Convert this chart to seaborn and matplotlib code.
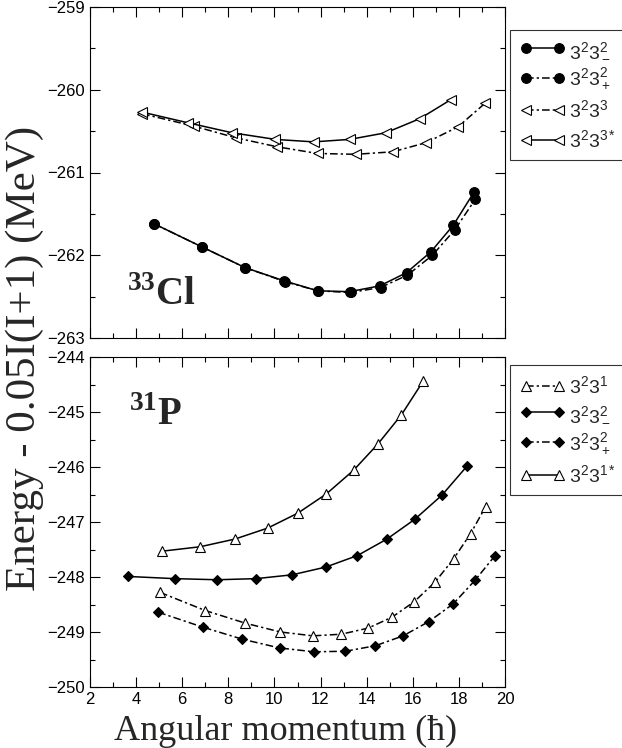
import matplotlib
matplotlib.use('Agg')
import matplotlib.pyplot as plt
import seaborn as sns
import numpy as np
from matplotlib.ticker import MultipleLocator

# ---- 33Cl (top panel) ----
cl_xm = [4.78, 6.86, 8.73, 10.43, 11.88, 13.26, 14.57, 15.73, 16.78, 17.75, 18.65]
cl_em = [-261.62, -261.90, -262.15, -262.31, -262.43, -262.44, -262.37, -262.21, -261.96, -261.64, -261.24]
cl_xp = [4.78, 6.86, 8.73, 10.47, 11.88, 13.30, 14.60, 15.77, 16.85, 17.83, 18.72]
cl_ep = [-261.62, -261.90, -262.15, -262.32, -262.43, -262.45, -262.39, -262.24, -262.00, -261.69, -261.32]
cl_x3 = [4.26, 6.51, 8.32, 10.13, 11.87, 13.53, 15.13, 16.57, 17.95, 19.15]
cl_e3 = [-260.29, -260.44, -260.58, -260.69, -260.77, -260.78, -260.75, -260.64, -260.45, -260.16]
cl_x3s = [4.26, 6.26, 8.17, 10.04, 11.70, 13.26, 14.83, 16.30, 17.65]
cl_e3s = [-260.27, -260.40, -260.52, -260.60, -260.63, -260.60, -260.52, -260.35, -260.12]

# ---- 31P (bottom panel) ----
p_x1 = [5.04, 7.00, 8.74, 10.26, 11.67, 12.90, 14.06, 15.10, 16.06, 16.97, 17.77, 18.51, 19.16]
p_e1 = [-248.28, -248.61, -248.84, -249.00, -249.07, -249.04, -248.93, -248.73, -248.45, -248.09, -247.67, -247.21, -246.72]
p_xm = [3.65, 5.68, 7.52, 9.20, 10.77, 12.22, 13.60, 14.88, 16.09, 17.27, 18.36]
p_em = [-247.99, -248.03, -248.05, -248.03, -247.96, -247.82, -247.61, -247.31, -246.95, -246.51, -245.98]
p_xp = [4.96, 6.88, 8.60, 10.22, 11.71, 13.07, 14.38, 15.58, 16.70, 17.75, 18.70, 19.57]
p_ep = [-248.64, -248.91, -249.13, -249.29, -249.36, -249.35, -249.25, -249.07, -248.81, -248.49, -248.06, -247.61]
p_x1s = [5.14, 6.78, 8.29, 9.71, 11.01, 12.25, 13.43, 14.49, 15.51, 16.45]
p_e1s = [-247.53, -247.45, -247.31, -247.11, -246.84, -246.49, -246.06, -245.58, -245.05, -244.44]

sns.set_style('ticks')
plt.rcParams['font.family'] = ['Liberation Sans', 'DejaVu Sans']
plt.rcParams['mathtext.fontset'] = 'custom'
plt.rcParams['mathtext.rm'] = 'Liberation Sans'
plt.rcParams['mathtext.it'] = 'Liberation Sans:italic'
plt.rcParams['mathtext.bf'] = 'Liberation Serif:bold'

W, H = 622, 748
fig = plt.figure(figsize=(W / 100, H / 100), dpi=100)
ax1 = fig.add_axes([90 / W, 1 - 338 / H, 415 / W, 331 / H])
ax2 = fig.add_axes([90 / W, 1 - 687 / H, 415 / W, 330 / H])

dashdot = (0, (5, 2, 1.5, 2))
lw = 1.1


def series(ax, x, y, marker, ms, filled, ls, label):
    sns.lineplot(x=x, y=y, ax=ax, color='black', marker=marker, markersize=ms,
                 markerfacecolor='black' if filled else 'white',
                 markeredgecolor='black', markeredgewidth=0.8,
                 linestyle=ls, linewidth=lw, label=label, legend=False)


series(ax1, cl_xm, cl_em, 'o', 7, True, '-', r'$3^23^2_-$')
series(ax1, cl_xp, cl_ep, 'o', 7, True, dashdot, r'$3^23^2_+$')
series(ax1, cl_x3, cl_e3, '<', 7.5, False, dashdot, r'$3^23^3$')
series(ax1, cl_x3s, cl_e3s, '<', 7.5, False, '-', r'$3^23^{3*}$')

series(ax2, p_x1, p_e1, '^', 7, False, dashdot, r'$3^23^1$')
series(ax2, p_xm, p_em, 'D', 5, True, '-', r'$3^23^2_-$')
series(ax2, p_xp, p_ep, 'D', 5, True, dashdot, r'$3^23^2_+$')
series(ax2, p_x1s, p_e1s, '^', 7, False, '-', r'$3^23^{1*}$')

for ax, ylo, yhi in [(ax1, -263, -259), (ax2, -250, -244)]:
    ax.set_xlim(2, 20)
    ax.set_ylim(ylo, yhi)
    ax.xaxis.set_major_locator(MultipleLocator(2))
    ax.xaxis.set_minor_locator(MultipleLocator(1))
    ax.yaxis.set_major_locator(MultipleLocator(1))
    ax.yaxis.set_minor_locator(MultipleLocator(0.5))
    ax.tick_params(which='both', direction='in', top=True, right=True,
                   width=0.8, labelsize=12, colors='black')
    ax.tick_params(which='major', length=7)
    ax.tick_params(which='minor', length=3.5)
    for s in ax.spines.values():
        s.set_linewidth(0.8)
        s.set_color('black')
    ax.set_xlabel('')
    ax.set_ylabel('')

ax1.tick_params(labelbottom=False)

for ax, top in [(ax1, 30), (ax2, 365)]:
    leg = ax.legend(loc='upper left', bbox_to_anchor=(510 / W, 1 - top / H),
                    bbox_transform=fig.transFigure, numpoints=2, handlelength=2.3,
                    fontsize=14, frameon=True, fancybox=False, borderpad=0.5,
                    labelspacing=0.4, handletextpad=0.25, borderaxespad=0)
    leg.get_frame().set_edgecolor('black')
    leg.get_frame().set_linewidth(0.8)

ax1.text(3.6, -262.60, r'$^{\mathbf{33}}\mathbf{Cl}$', fontsize=28, ha='left', va='baseline')
ax2.text(3.7, -245.23, r'$^{\mathbf{31}}\mathbf{P}$', fontsize=28, ha='left', va='baseline')

serif = ['Liberation Serif', 'DejaVu Serif']
fig.text(286 / W, 1 - 740 / H, 'Angular momentum (ħ)', family=serif,
         fontsize=26, ha='center', va='baseline')
fig.text(25 / W, 1 - 358 / H, 'Energy - 0.05I(I+1) (MeV)', rotation=90,
         family=serif, fontsize=31, ha='center', va='center')

fig.savefig('out.png', dpi=100, facecolor='white')
